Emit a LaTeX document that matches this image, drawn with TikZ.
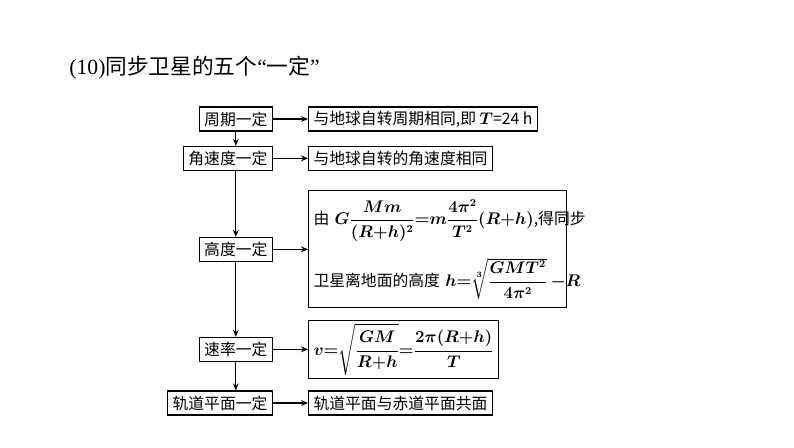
\documentclass[tikz,border=0pt]{standalone}
\usepackage{amsmath}
\usepackage{fontspec}
\setmainfont{Liberation Serif}
\newfontfamily\cjk{Noto Sans CJK SC}
\usetikzlibrary{arrows.meta}

\begin{document}
\begin{tikzpicture}[
  line width=0.9pt,
  kbox/.style={draw, font=\cjk\fontsize{13.5}{16}\selectfont\boldmath, inner xsep=0.15cm, inner ysep=0.1cm, minimum height=0.72cm},
  lbox/.style={kbox, anchor=east},
  rbox/.style={kbox, anchor=west},
  arr/.style={-{Stealth[length=6pt,width=5pt]}},
  title/.style={font=\fontsize{18.5}{22}\selectfont, anchor=west},
]
\useasboundingbox (0,0) rectangle (23.82,13.41);
% title
\node[title] (ttl) at (1.95, 11.37) {(10){\cjk 同步卫星的五个}“{\cjk 一定}”};
% left column
\node[lbox] (zq) at (8.19, 9.84) {周期一定};
\node[lbox] (jsd) at (8.19, 8.66) {角速度一定};
\node[lbox] (gd) at (8.19, 5.93) {高度一定};
\node[lbox] (sl) at (8.19, 2.93) {速率一定};
\node[lbox] (gdpm) at (8.19, 1.32) {轨道平面一定};
% right column
\node[rbox] (zq_r) at (9.24, 9.84) {与地球自转周期相同,即 $T$=24 h};
\node[rbox] (jsd_r) at (9.24, 8.66) {与地球自转的角速度相同};
\node[rbox, text width=7.44cm, minimum height=3.51cm, align=left] (gd_r) at (9.24, 5.93)
  {\mbox{由 $G\dfrac{Mm}{(R{+}h)^2}{=}m\dfrac{4\pi^2}{T^2}(R{+}h)$,得同步}\\[0.45cm]
   \mbox{卫星离地面的高度 $h{=}\sqrt[3]{\dfrac{GMT^2}{4\pi^2}}\,{-}R$}};
\node[rbox, minimum height=1.41cm] (sl_r) at (9.24, 2.93)
  {$v{=}\sqrt{\dfrac{GM}{R{+}h}}{=}\dfrac{2\pi(R{+}h)}{T}$};
\node[rbox] (gdpm_r) at (9.24, 1.32) {轨道平面与赤道平面共面};
% arrows
\draw[arr] (zq) -- (zq_r);
\draw[arr] (jsd) -- (jsd_r);
\draw[arr] (gd) -- (gd_r);
\draw[arr] (sl) -- (sl_r);
\draw[arr] (gdpm) -- (gdpm_r);
\draw[arr] (zq) -- (zq |- jsd.north);
\draw[arr] (zq |- jsd.south) -- (zq |- gd.north);
\draw[arr] (zq |- gd.south) -- (zq |- sl.north);
\draw[arr] (zq |- sl.south) -- (zq |- gdpm.north);
\end{tikzpicture}
\end{document}
